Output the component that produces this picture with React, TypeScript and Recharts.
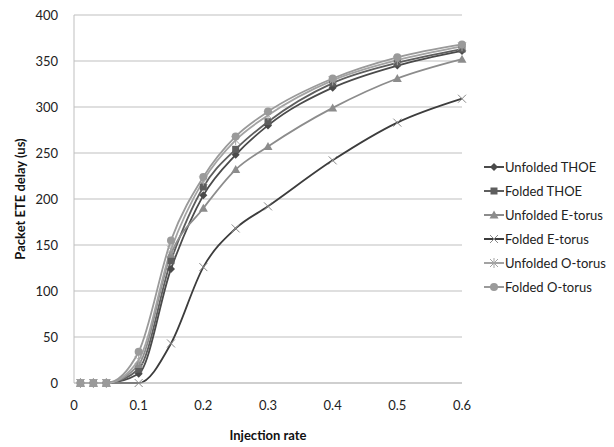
import React from "react";
import { LineChart, Line, XAxis, YAxis, CartesianGrid } from "recharts";

const rates = [0.01, 0.03, 0.05, 0.1, 0.15, 0.2, 0.25, 0.3, 0.4, 0.5, 0.6];

const unfoldedThoe = [0, 0, 0, 10, 124, 204, 248, 280, 321, 345, 361];
const foldedThoe = [0, 0, 0, 15, 133, 213, 254, 284, 326, 348, 363];
const unfoldedEtorus = [0, 0, 0, 20, 140, 190, 232, 257, 299, 331, 352];
const foldedEtorus = [0, 0, 0, 0, 43, 126, 168, 192, 242, 283, 309];
const unfoldedOtorus = [0, 0, 0, 25, 145, 220, 264, 291, 329, 351, 366];
const foldedOtorus = [0, 0, 0, 34, 155, 224, 268, 295, 331, 354, 368];

const xTicks = [0, 0.1, 0.2, 0.3, 0.4, 0.5, 0.6];
const yTicks = [0, 50, 100, 150, 200, 250, 300, 350, 400];

const series = [
  { key: "uThoe", name: "Unfolded THOE", values: unfoldedThoe, color: "#4a4a4a", mark: "#4a4a4a", shape: "diamond" },
  { key: "fThoe", name: "Folded THOE", values: foldedThoe, color: "#5e5e5e", mark: "#5e5e5e", shape: "square" },
  { key: "uE", name: "Unfolded E-torus", values: unfoldedEtorus, color: "#8c8c8c", mark: "#8c8c8c", shape: "triangle" },
  { key: "fE", name: "Folded E-torus", values: foldedEtorus, color: "#3c3c3c", mark: "#8a8a8a", shape: "cross" },
  { key: "uO", name: "Unfolded O-torus", values: unfoldedOtorus, color: "#a3a3a3", mark: "#a3a3a3", shape: "star" },
  { key: "fO", name: "Folded O-torus", values: foldedOtorus, color: "#9a9a9a", mark: "#9a9a9a", shape: "circle" },
];

const data = rates.map((x, i) => {
  const row: Record<string, number> = { x };
  series.forEach((s) => (row[s.key] = s.values[i]));
  return row;
});

const FONT = "Lato, 'Open Sans', sans-serif";

function Marker({ shape, color, cx, cy }: { shape: string; color: string; cx: number; cy: number }) {
  if (shape === "diamond")
    return <polygon points={`${cx},${cy - 4} ${cx + 4},${cy} ${cx},${cy + 4} ${cx - 4},${cy}`} fill={color} />;
  if (shape === "square") return <rect x={cx - 3.5} y={cy - 3.5} width={7} height={7} fill={color} />;
  if (shape === "triangle")
    return <polygon points={`${cx},${cy - 4.5} ${cx + 4.5},${cy + 3.5} ${cx - 4.5},${cy + 3.5}`} fill={color} />;
  if (shape === "cross")
    return (
      <g stroke={color} strokeWidth={1}>
        <line x1={cx - 4} y1={cy - 4} x2={cx + 4} y2={cy + 4} />
        <line x1={cx - 4} y1={cy + 4} x2={cx + 4} y2={cy - 4} />
      </g>
    );
  if (shape === "star")
    return (
      <g stroke={color} strokeWidth={1}>
        <line x1={cx - 4} y1={cy - 4} x2={cx + 4} y2={cy + 4} />
        <line x1={cx - 4} y1={cy + 4} x2={cx + 4} y2={cy - 4} />
        <line x1={cx} y1={cy - 5} x2={cx} y2={cy + 5} />
      </g>
    );
  return <circle cx={cx} cy={cy} r={4} fill={color} />;
}

const makeDot = (shape: string, color: string) => (props: any) => (
  <Marker key={`${shape}-${props.index}`} shape={shape} color={color} cx={props.cx} cy={props.cy} />
);

function LegendBox() {
  return (
    <div style={{ position: "absolute", left: 484, top: 155, fontFamily: FONT, fontSize: 13, color: "#222" }}>
      {series.map((s) => (
        <div key={s.key} style={{ display: "flex", alignItems: "center", height: 24 }}>
          <svg width={20} height={12} style={{ marginRight: 1 }}>
            <line x1={0} y1={6} x2={20} y2={6} stroke={s.color} strokeWidth={2} />
            <Marker shape={s.shape} color={s.mark} cx={10} cy={6} />
          </svg>
          <span>{s.name}</span>
        </div>
      ))}
    </div>
  );
}

export default function App() {
  return (
    <div style={{ position: "absolute", left: 0, top: 0, width: 614, height: 447, background: "#fff" }}>
      <LineChart width={614} height={447} data={data} margin={{ top: 15, right: 152, bottom: 0, left: 0 }}>
        <CartesianGrid vertical={false} stroke="#bfbfbf" />
        <XAxis
          dataKey="x"
          type="number"
          domain={[0, 0.6]}
          ticks={xTicks}
          height={64}
          tickLine={false}
          stroke="#bfbfbf"
          tick={{ fill: "#222", fontSize: 13, fontFamily: FONT }}
          tickMargin={12}
          label={{
            value: "Injection rate",
            position: "insideBottom",
            offset: 7,
            style: { fontFamily: FONT, fontSize: 13, fontWeight: 700, fill: "#111" },
          }}
        />
        <YAxis
          domain={[0, 400]}
          ticks={yTicks}
          width={74}
          tickLine={false}
          stroke="#bfbfbf"
          tick={{ fill: "#222", fontSize: 13, fontFamily: FONT }}
          tickMargin={10}
          label={{
            value: "Packet ETE delay (us)",
            angle: -90,
            position: "insideLeft",
            offset: 20,
            style: { textAnchor: "middle", fontFamily: FONT, fontSize: 13, fontWeight: 700, fill: "#111" },
          }}
        />
        {series.map((s) => (
          <Line
            key={s.key}
            dataKey={s.key}
            name={s.name}
            type="monotone"
            stroke={s.color}
            strokeWidth={1.8}
            dot={makeDot(s.shape, s.mark)}
            activeDot={false}
            isAnimationActive={false}
          />
        ))}
      </LineChart>
      <LegendBox />
    </div>
  );
}
